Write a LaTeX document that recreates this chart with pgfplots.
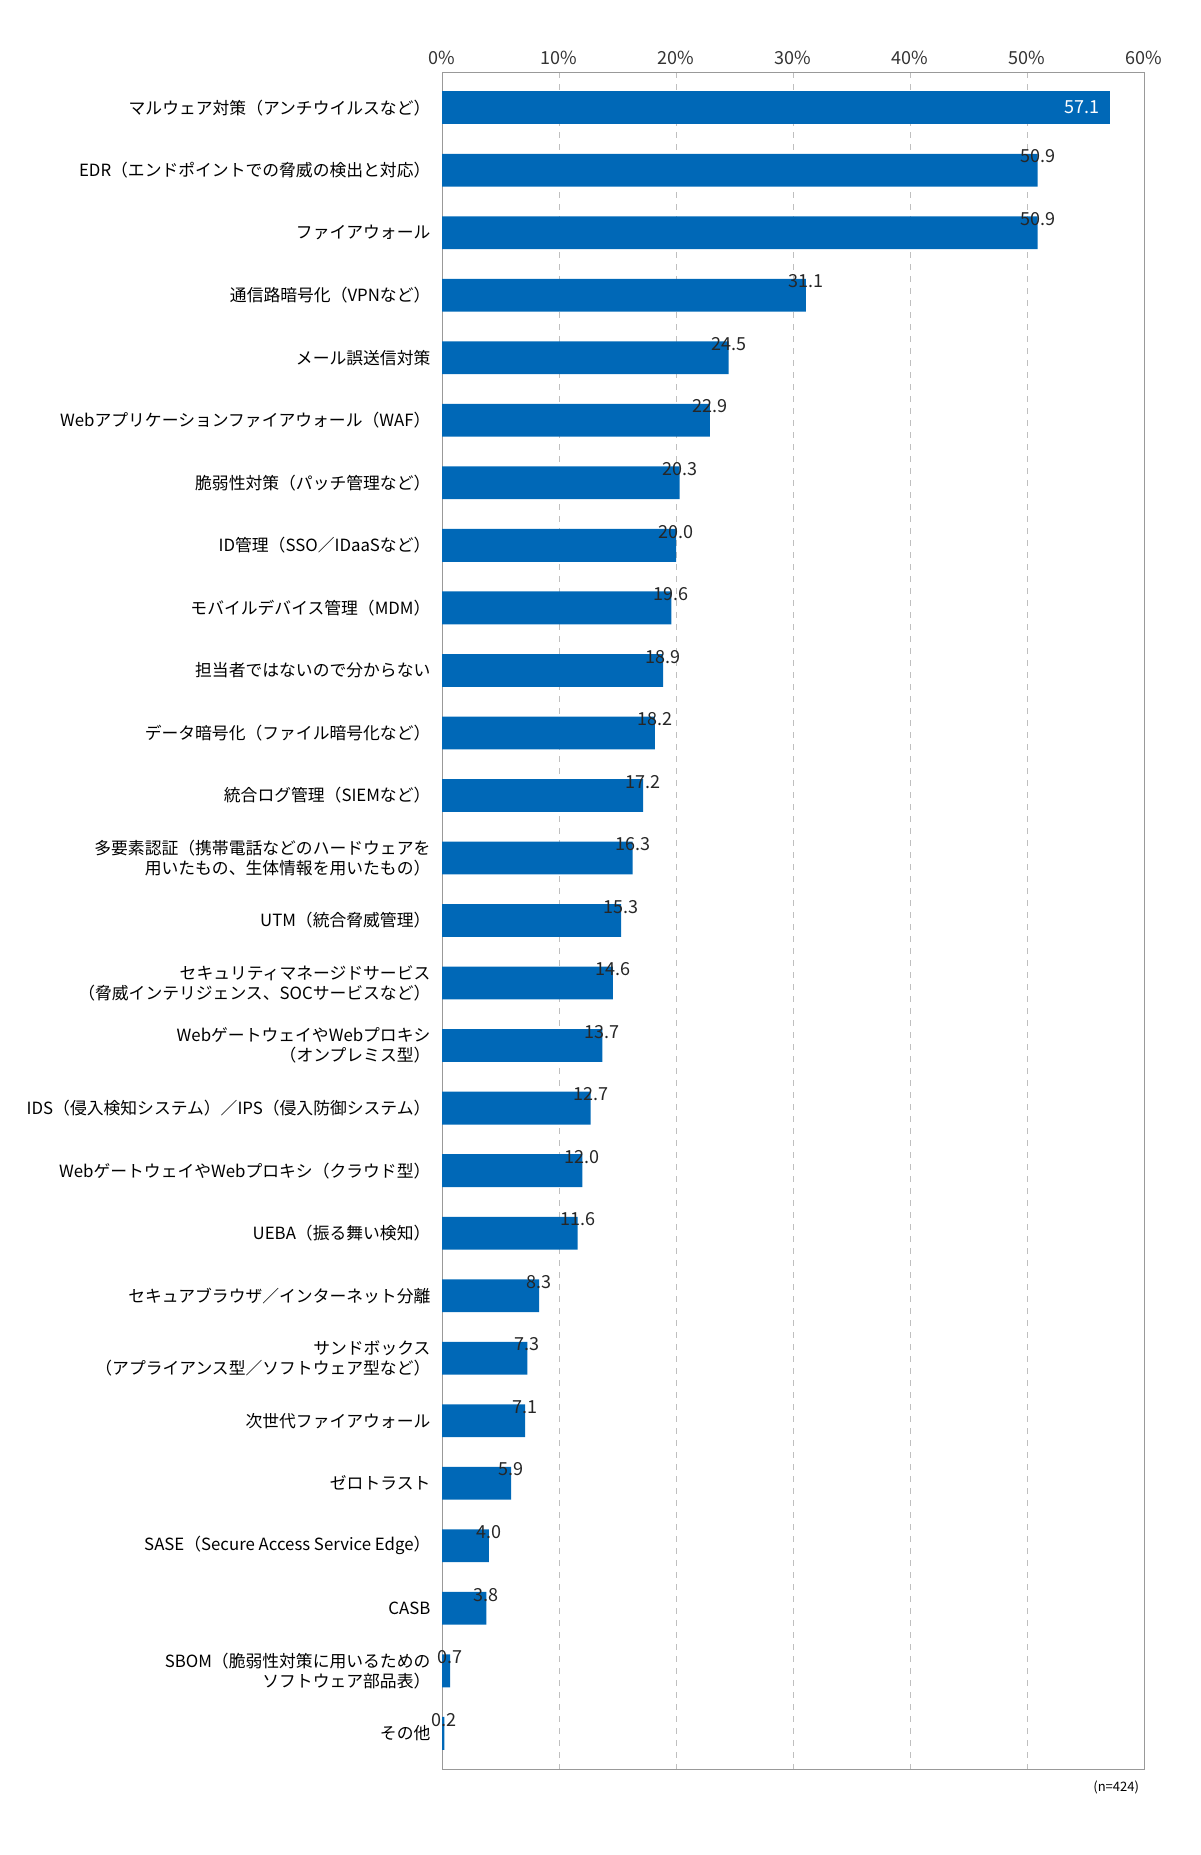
\documentclass[border=0pt]{standalone}
\usepackage{pgfplots}
\pgfplotsset{compat=1.18}
\usepackage{fontspec}
\setmainfont{Noto Sans CJK JP}
\definecolor{bar}{HTML}{0068B7}
\begin{document}
\begin{tikzpicture}
\path[use as bounding box] (0,0) rectangle (600pt,-927.5pt);
\begin{axis}[
  at={(221pt,-36pt)}, anchor=north west,
  scale only axis, width=351pt, height=848.5pt,
  xbar, bar width=16.4pt, bar shift=0pt,
  xmin=0, xmax=60, ymin=-0.57, ymax=26.57, y dir=reverse,
  xtick={0,10,...,60}, xticklabel={\pgfmathprintnumber{\tick}\%},
  xticklabel pos=upper, xtick style={draw=none},
  /pgf/number format/assume math mode=true,
  ytick={0,...,26}, ytick style={draw=none},
  yticklabels={
    マルウェア対策（アンチウイルスなど）,
    EDR（エンドポイントでの脅威の検出と対応）,
    ファイアウォール,
    通信路暗号化（VPNなど）,
    メール誤送信対策,
    Webアプリケーションファイアウォール（WAF）,
    脆弱性対策（パッチ管理など）,
    ID管理（SSO／IDaaSなど）,
    モバイルデバイス管理（MDM）,
    担当者ではないので分からない,
    データ暗号化（ファイル暗号化など）,
    統合ログ管理（SIEMなど）,
    {多要素認証（携帯電話などのハードウェアを\\用いたもの、生体情報を用いたもの）},
    UTM（統合脅威管理）,
    {セキュリティマネージドサービス\\（脅威インテリジェンス、SOCサービスなど）},
    {WebゲートウェイやWebプロキシ\\（オンプレミス型）},
    IDS（侵入検知システム）／IPS（侵入防御システム）,
    WebゲートウェイやWebプロキシ（クラウド型）,
    UEBA（振る舞い検知）,
    セキュアブラウザ／インターネット分離,
    {サンドボックス\\（アプライアンス型／ソフトウェア型など）},
    次世代ファイアウォール,
    ゼロトラスト,
    SASE（Secure Access Service Edge）,
    CASB,
    {SBOM（脆弱性対策に用いるための\\ソフトウェア部品表）},
    その他},
  yticklabel style={align=right, font=\fontsize{8.4}{10}\selectfont, xshift=2pt},
  xticklabel style={font=\fontsize{9}{10}\selectfont, text=black!80},
  axis line style={draw=black!40},
  xmajorgrids, grid style={dashed, draw=black!25},
  nodes near coords, point meta=explicit,
  every node near coord/.append style={font=\fontsize{9}{10}\selectfont, text=black!85,
    /pgf/number format/fixed, /pgf/number format/fixed zerofill, /pgf/number format/precision=1},
]
\addplot[fill=bar, draw=none] coordinates {
(50.9,1) [50.9] (50.9,2) [50.9] (31.1,3) [31.1] (24.5,4) [24.5] (22.9,5) [22.9]
(20.3,6) [20.3] (20.0,7) [20.0] (19.6,8) [19.6] (18.9,9) [18.9] (18.2,10) [18.2]
(17.2,11) [17.2] (16.3,12) [16.3] (15.3,13) [15.3] (14.6,14) [14.6] (13.7,15) [13.7]
(12.7,16) [12.7] (12.0,17) [12.0] (11.6,18) [11.6] (8.3,19) [8.3] (7.3,20) [7.3]
(7.1,21) [7.1] (5.9,22) [5.9] (4.0,23) [4.0] (3.8,24) [3.8] (0.7,25) [0.7] (0.2,26) [0.2]
};
\addplot[fill=bar, draw=none, every node near coord/.append style={anchor=east, text=white, xshift=-2pt}] coordinates {(57.1,0) [57.1]};
\end{axis}
\node[anchor=north east, font=\fontsize{6.5}{7}\selectfont] at (573pt,-887pt) {(n=424)};
\end{tikzpicture}
\end{document}
